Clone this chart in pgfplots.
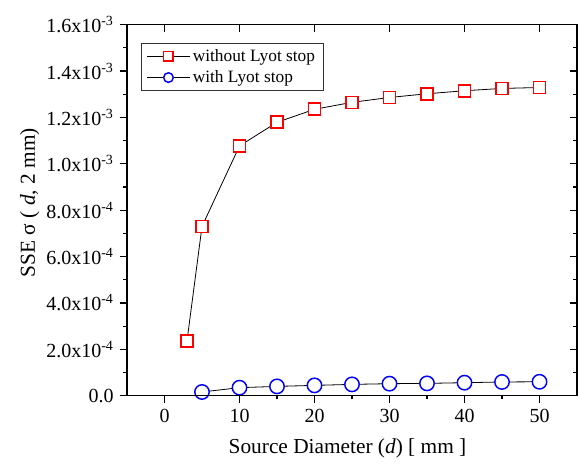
\documentclass[border=0pt]{standalone}
\usepackage{fontspec}
\setmainfont{Liberation Serif}
\usepackage{pgfplots}
\pgfplotsset{compat=1.18}
\definecolor{mred}{RGB}{255,0,0}
\definecolor{mblue}{RGB}{0,0,255}
\pgfplotstableread{
x y
3  0.000236
5  0.000730
10 0.001077
15 0.001179
20 0.001235
25 0.001265
30 0.001286
35 0.001302
40 0.001315
45 0.001325
50 0.001329
}\without
\pgfplotstableread{
x y
5  0.000016
10 0.0000345
15 0.000040
20 0.0000444
25 0.0000487
30 0.0000517
35 0.000053
40 0.000056
45 0.000059
50 0.000060
}\withlyot
\begin{document}
\begin{tikzpicture}
\useasboundingbox (-95.25pt,-51pt) rectangle (339.75pt,296.75pt);
\pgfplotsset{
  common/.style={
    at={(0,0)}, anchor=south west,
    scale only axis, width=337.5pt, height=278.25pt,
    xmin=-5, xmax=55, ymin=0, ymax=1.6e-3,
    xtick={0,10,20,30,40,50},
    ytick={0,0.0002,0.0004,0.0006,0.0008,0.001,0.0012,0.0014,0.0016},
    scaled y ticks=false, scaled x ticks=false,
    axis line style={line width=1.1pt},
    major tick length=5.5pt, minor tick length=2.8pt,
    every tick/.style={black, line width=0.9pt},
  },
}
\begin{axis}[
  common,
  xtick pos=left, ytick pos=left, tick align=outside,
  minor x tick num=1, minor y tick num=1,
  xticklabels={0,10,20,30,40,50},
  yticklabels={0.0,
    2.0x10\textsuperscript{-4}, 4.0x10\textsuperscript{-4},
    6.0x10\textsuperscript{-4}, 8.0x10\textsuperscript{-4},
    1.0x10\textsuperscript{-3}, 1.2x10\textsuperscript{-3},
    1.4x10\textsuperscript{-3}, 1.6x10\textsuperscript{-3}},
  ticklabel style={font=\fontsize{15}{18}\selectfont},
  xticklabel style={yshift=-1pt},
  yticklabel style={xshift=-1pt},
  xlabel={Source Diameter (\textit{d}) [ mm ]},
  ylabel={SSE σ ( \textit{d}, 2 mm)},
  label style={font=\fontsize{16}{19}\selectfont},
  xlabel style={at={(axis description cs:0.49,-0.142)}, anchor=center},
  ylabel style={at={(axis description cs:-0.216,0.52)}, anchor=center, rotate=0},
  legend style={at={(axis description cs:0.031,0.9515)}, anchor=north west,
    draw=black!80, line width=0.8pt, font=\fontsize{13}{15}\selectfont,
    inner xsep=4pt, inner ysep=2.5pt, row sep=1.5pt},
  legend cell align=left,
  legend image code/.code={
    \draw[mark repeat=2, mark phase=2, #1, mark size=3.6pt]
      plot coordinates {(0cm,0cm) (0.56cm,0cm) (1.12cm,0cm)};
  },
]
\addplot[black, line width=0.6pt, mark=square*, mark size=4.5pt,
  mark options={draw=mred, fill=white, line width=1.2pt}] table {\without};
\addlegendentry{without Lyot stop}
\addplot[black, line width=0.6pt, mark=*, mark size=5.4pt,
  mark options={draw=mblue, fill=white, line width=1.1pt}] table {\withlyot};
\addlegendentry{with Lyot stop}
\end{axis}
\begin{axis}[
  common,
  xtick pos=right, ytick pos=right, tick align=inside,
  minor y tick num=1,
  xticklabels={}, yticklabels={},
]
\end{axis}
\end{tikzpicture}
\end{document}
